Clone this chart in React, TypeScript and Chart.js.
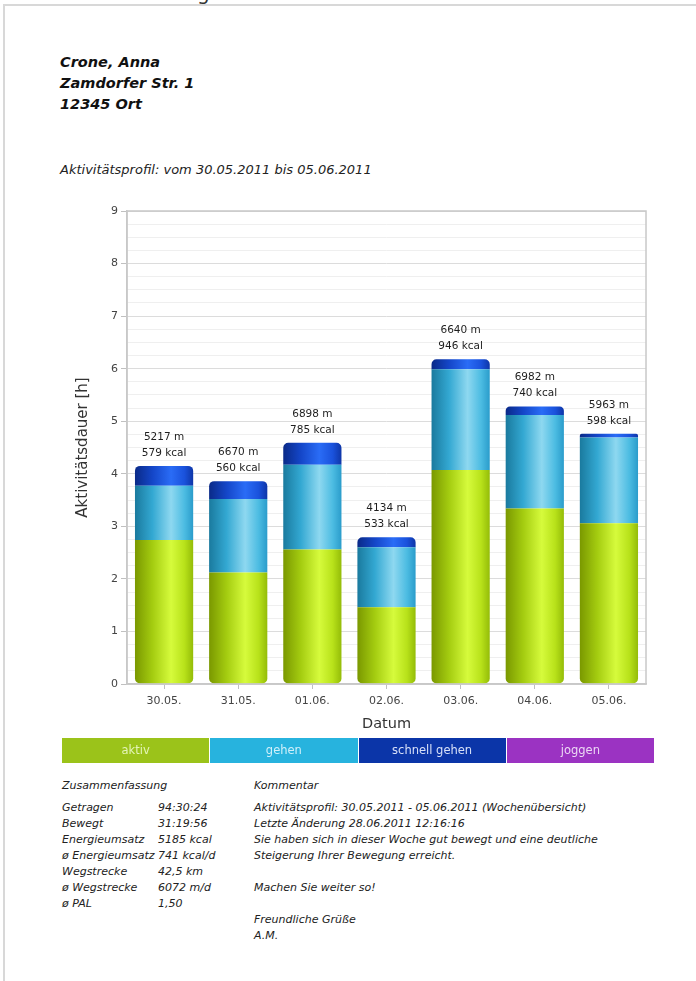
import React, { useEffect, useRef } from "react";
import { Chart, registerables } from "chart.js";

Chart.register(...registerables);

// ---- data ----
const categories = ["30.05.", "31.05.", "01.06.", "02.06.", "03.06.", "04.06.", "05.06."];
const aktiv = [2.74, 2.12, 2.56, 1.46, 4.07, 3.34, 3.06];
const gehen = [1.03, 1.4, 1.61, 1.14, 1.92, 1.78, 1.63];
const schnellGehen = [0.38, 0.34, 0.42, 0.19, 0.19, 0.16, 0.07];
const joggen = [0, 0, 0, 0, 0, 0, 0];
const distances = [5217, 6670, 6898, 4134, 6640, 6982, 5963];
const kcal = [579, 560, 785, 533, 946, 740, 598];
const seriesNames = ["aktiv", "gehen", "schnell gehen", "joggen"];
const yMin = 0;
const yMax = 9;
const yMinorStep = 0.25;

const summaryLabels = ["Getragen", "Bewegt", "Energieumsatz", "ø Energieumsatz", "Wegstrecke", "ø Wegstrecke", "ø PAL"];
const summaryValues = ["94:30:24", "31:19:56", "5185 kcal", "741 kcal/d", "42,5 km", "6072 m/d", "1,50"];
const commentLines = [
  "Aktivitätsprofil: 30.05.2011 - 05.06.2011 (Wochenübersicht)",
  "Letzte Änderung 28.06.2011 12:16:16",
  "Sie haben sich in dieser Woche gut bewegt und eine deutliche",
  "Steigerung Ihrer Bewegung erreicht.",
  "",
  "Machen Sie weiter so!",
  "",
  "Freundliche Grüße",
  "A.M.",
];

// ---- styles ----
const FONT = "'DejaVu Sans', sans-serif";
const BAR_PCT = 0.785;
const legendColors = ["#9bc31a", "#27b3de", "#0b35a8", "#9b33c2"];
const legendTextColors = ["#e4f4b8", "#d0f0fa", "#d8e0f8", "#ecd8f4"];
type Stop = [number, string];
const gradients: Stop[][] = [
  [[0, "#7a9800"], [0.3, "#a4cc10"], [0.62, "#d6fb3c"], [0.85, "#b8e21a"], [1, "#94bc08"]],
  [[0, "#1a7a9e"], [0.3, "#33a8d2"], [0.62, "#8ed8f0"], [0.85, "#4cbce2"], [1, "#2a9ccb"]],
  [[0, "#0a2a88"], [0.3, "#1446c8"], [0.62, "#2a6cf6"], [0.85, "#1a52dc"], [1, "#0e36a8"]],
  [[0, "#6a1e90"], [0.6, "#b860e0"], [1, "#8a2ab4"]],
];

function makeBg(idx: number) {
  const stops = gradients[idx];
  return (ctx: any) => {
    const chart = ctx.chart;
    const area = chart.chartArea;
    if (ctx.type !== "data" || !area || !chart.scales.x) return legendColors[idx];
    const x = chart.scales.x.getPixelForValue(ctx.dataIndex);
    const w = ((area.right - area.left) / categories.length) * BAR_PCT;
    const g = chart.ctx.createLinearGradient(x - w / 2, 0, x + w / 2, 0);
    stops.forEach(([o, c]) => g.addColorStop(o, c));
    return g;
  };
}

const frameAndLabels = {
  id: "frameAndLabels",
  afterDatasetsDraw(chart: any) {
    const { ctx, chartArea: a, scales } = chart;
    ctx.save();
    ctx.strokeStyle = "#c8c8c8";
    ctx.lineWidth = 1.5;
    ctx.strokeRect(a.left, a.top, a.right - a.left, a.bottom - a.top);
    ctx.fillStyle = "#1e1e1e";
    ctx.font = `10.5px ${FONT}`;
    ctx.textAlign = "center";
    ctx.textBaseline = "middle";
    categories.forEach((_, i) => {
      const total = aktiv[i] + gehen[i] + schnellGehen[i] + joggen[i];
      const px = scales.x.getPixelForValue(i);
      const py = scales.y.getPixelForValue(total);
      ctx.fillText(`${distances[i]} m`, px, py - 29);
      ctx.fillText(`${kcal[i]} kcal`, px, py - 13);
    });
    ctx.restore();
  },
};

function ActivityChart() {
  const ref = useRef<HTMLCanvasElement | null>(null);
  useEffect(() => {
    if (!ref.current) return;
    const seriesData = [aktiv, gehen, schnellGehen, joggen];
    const radii = [
      { bottomLeft: 5, bottomRight: 5, topLeft: 0, topRight: 0 },
      0,
      { topLeft: 5, topRight: 5, bottomLeft: 0, bottomRight: 0 },
      0,
    ];
    const chart = new Chart(ref.current, {
      type: "bar",
      data: {
        labels: categories,
        datasets: seriesData.map((d, i) => ({
          label: seriesNames[i],
          data: d,
          backgroundColor: makeBg(i),
          borderWidth: 0,
          borderSkipped: false,
          borderRadius: radii[i] as any,
          barPercentage: BAR_PCT,
          categoryPercentage: 1,
        })),
      },
      options: {
        animation: false,
        responsive: false,
        maintainAspectRatio: false,
        devicePixelRatio: 1,
        layout: { padding: { top: 16, right: 14, left: 0, bottom: 0 } },
        plugins: { legend: { display: false }, tooltip: { enabled: false } },
        scales: {
          x: {
            stacked: true,
            afterFit: (s: any) => {
              s.height = 56;
            },
            grid: {
              display: true,
              drawOnChartArea: false,
              offset: false,
              tickLength: 5,
              tickColor: "#c0c0c0",
            },
            border: { color: "#c8c8c8", width: 1.5 },
            ticks: { color: "#444", font: { family: FONT, size: 11 }, padding: 6 },
            title: {
              display: true,
              text: "Datum",
              color: "#333",
              font: { family: FONT, size: 14.5 },
              padding: { top: 0, bottom: 7 },
            },
          },
          y: {
            stacked: true,
            min: yMin,
            max: yMax,
            afterFit: (s: any) => {
              s.width = 67;
            },
            grid: {
              color: (c: any) => (c.tick && Number.isInteger(c.tick.value) ? "#dcdcdc" : "#efefef"),
              tickColor: (c: any) => (c.tick && Number.isInteger(c.tick.value) ? "#c0c0c0" : "rgba(0,0,0,0)"),
              tickLength: 6,
            },
            border: { color: "#c8c8c8", width: 1.5 },
            ticks: {
              stepSize: yMinorStep,
              autoSkip: false,
              color: "#444",
              font: { family: FONT, size: 11 },
              padding: 3,
              callback: (v: any) => (Number.isInteger(v) ? String(v) : ""),
            },
            title: {
              display: true,
              text: "Aktivitätsdauer [h]",
              color: "#333",
              font: { family: FONT, size: 15 },
              padding: { top: 14, bottom: 0 },
            },
          },
        },
      },
      plugins: [frameAndLabels],
    });
    return () => chart.destroy();
  }, []);
  return <canvas ref={ref} width={600} height={545} style={{ width: 600, height: 545, display: "block" }} />;
}

export default function App() {
  const abs = (l: number, t: number): React.CSSProperties => ({ position: "absolute", left: l, top: t, whiteSpace: "nowrap" });
  return (
    <div style={{ position: "absolute", left: 0, top: 0, width: 696, height: 981, background: "#fff", overflow: "hidden", fontFamily: FONT, color: "#111" }}>
      <div style={{ ...abs(3, 4), width: 720, height: 1000, borderTop: "2px solid #d8d8d8", borderLeft: "2px solid #d8d8d8" }} />
      <div style={{ ...abs(197, -19), fontSize: 20, color: "#333" }}>g</div>

      <div style={{ ...abs(60, 52), fontSize: 14.5, fontWeight: "bold", fontStyle: "italic", lineHeight: "21px" }}>
        <div>Crone, Anna</div>
        <div>Zamdorfer Str. 1</div>
        <div>12345 Ort</div>
      </div>
      <div style={{ ...abs(60, 161), fontSize: 13, fontStyle: "italic", lineHeight: "18px", color: "#222" }}>
        Aktivitätsprofil: vom 30.05.2011 bis 05.06.2011
      </div>

      <div style={{ position: "absolute", left: 60, top: 195 }}>
        <ActivityChart />
      </div>

      <div style={{ position: "absolute", left: 62, top: 738, width: 592, height: 25, display: "flex", gap: 1 }}>
        {seriesNames.map((n, i) => (
          <div
            key={n}
            style={{
              flex: 1,
              background: legendColors[i],
              color: legendTextColors[i],
              fontSize: 11.5,
              lineHeight: "25px",
              textAlign: "center",
            }}
          >
            {n}
          </div>
        ))}
      </div>

      <div style={{ ...abs(62, 778), fontSize: 11, fontStyle: "italic", lineHeight: "16px", color: "#222" }}>Zusammenfassung</div>
      <div style={{ ...abs(62, 800), fontSize: 11, fontStyle: "italic", lineHeight: "16px", color: "#222" }}>
        {summaryLabels.map((l, i) => (
          <div key={l} style={{ display: "flex" }}>
            <span style={{ width: 96, display: "inline-block" }}>{l}</span>
            <span>{summaryValues[i]}</span>
          </div>
        ))}
      </div>
      <div style={{ ...abs(254, 778), fontSize: 11, fontStyle: "italic", lineHeight: "16px", color: "#222" }}>Kommentar</div>
      <div style={{ ...abs(254, 800), fontSize: 11, fontStyle: "italic", lineHeight: "16px", color: "#222" }}>
        {commentLines.map((l, i) => (
          <div key={i} style={{ height: 16 }}>{l}</div>
        ))}
      </div>
    </div>
  );
}
